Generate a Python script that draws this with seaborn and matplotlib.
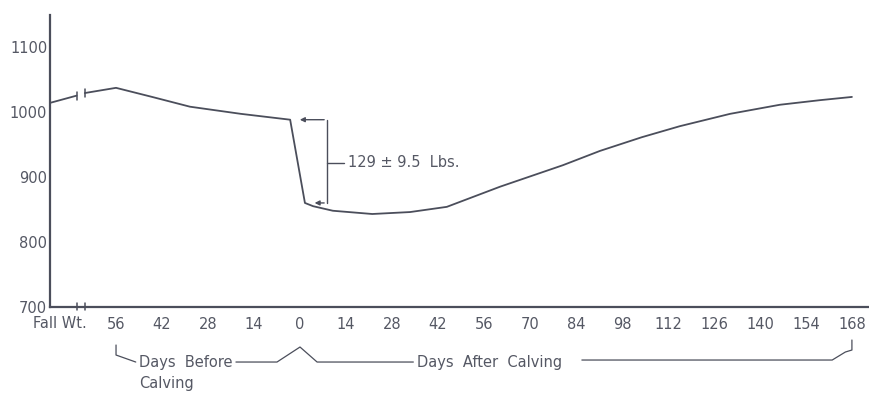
import matplotlib
matplotlib.use("Agg")
import matplotlib.pyplot as plt
import seaborn as sns
import pandas as pd

# values (days relative to calving, weight in lbs)
fall_days = [-76, -68]
fall_weight = [1014, 1025]

main_days = [-65.5, -56, -45, -33.5, -18, -3, 1.5, 4, 10, 22, 33.5, 44.7,
             60.9, 80, 91.3, 104, 115.6, 130.9, 146.1, 158.2, 168]
main_weight = [1029, 1037, 1023, 1008, 997, 988, 860, 855, 848, 843, 846, 854,
               885, 918, 940, 961, 978, 997, 1011, 1018, 1023]

tick_days = [-56, -42, -28, -14, 0, 14, 28, 42, 56, 70, 84, 98, 112, 126, 140, 154, 168]
tick_labels = ["56", "42", "28", "14", "0", "14", "28", "42", "56", "70", "84",
               "98", "112", "126", "140", "154", "168"]
y_ticks = [700, 800, 900, 1000, 1100]

fall = pd.DataFrame({"day": fall_days, "weight": fall_weight})
main = pd.DataFrame({"day": main_days, "weight": main_weight})

sns.set_style("white")
plt.rcParams["font.family"] = ["DejaVu Sans"]

ink = "#4b4e5b"
txt = "#555864"
fs = 10.5

fig = plt.figure(figsize=(8.69, 3.95), dpi=100)
ax = fig.add_axes([50 / 869, 88 / 395, 819 / 869, 292 / 395])

sns.lineplot(data=fall, x="day", y="weight", ax=ax, color=ink, lw=1.3)
sns.lineplot(data=main, x="day", y="weight", ax=ax, color=ink, lw=1.3)

ax.set_xlim(-76.1, 173.2)
ax.set_ylim(700, 1149)
ax.set_xlabel("")
ax.set_ylabel("")

for s in ["top", "right"]:
    ax.spines[s].set_visible(False)
for s in ["left", "bottom"]:
    ax.spines[s].set_color(ink)
    ax.spines[s].set_linewidth(1.6)

ax.set_xticks(tick_days)
ax.set_xticklabels(tick_labels)
ax.set_yticks(y_ticks)
ax.set_yticklabels([str(v) for v in y_ticks])
ax.tick_params(axis="x", direction="in", length=6, width=1.2, color=ink,
               pad=7.5, labelsize=fs, labelcolor=txt)
ax.tick_params(axis="y", direction="in", length=9, width=1.6, color=ink,
               pad=2, labelsize=fs, labelcolor=txt)
ax.yaxis.get_major_ticks()[0].tick1line.set_visible(False)

ax.text(-73, 700 - 14.5, "Fall Wt.", ha="center", va="top", fontsize=fs,
        color=txt, clip_on=False)

# break marks on curve and axis
for xb, yb in ((-68, 1025), (-65.5, 1029)):
    ax.plot([xb, xb], [yb - 6, yb + 6], color=ink, lw=1.1)
    ax.plot([xb, xb], [696, 706], color=ink, lw=1.1, clip_on=False)

# loss bracket at calving
ax.plot([8.2, 8.2], [988, 860], color=ink, lw=1.0)
ax.plot([8.2, 13.5], [922, 922], color=ink, lw=1.0)
ax.annotate("", xy=(-0.9, 988), xytext=(8.2, 988),
            arrowprops=dict(arrowstyle="-|>", color=ink, lw=1.0, mutation_scale=7))
ax.annotate("", xy=(3.6, 860), xytext=(8.2, 860),
            arrowprops=dict(arrowstyle="-|>", color=ink, lw=1.0, mutation_scale=7))
ax.text(14.5, 922, "129 \u00b1 9.5  Lbs.", ha="left", va="center",
        fontsize=fs, color=txt)

# day group labels below the axis
yrow = 700 - (362 - 307) / 0.65
ax.plot([-56, -56, -50], [700 - 38 / 0.65, 700 - 48 / 0.65, yrow],
        color=ink, lw=0.9, clip_on=False)
ax.text(-49, yrow, "Days  Before", ha="left", va="center", fontsize=fs,
        color=txt, clip_on=False)
ax.text(-49, 700 - (383 - 307) / 0.65, "Calving", ha="left", va="center",
        fontsize=fs, color=txt, clip_on=False)
ax.plot([-19.5, -7, 0, 5.2, 34.5],
        [yrow, yrow, 700 - 40 / 0.65, yrow, yrow],
        color=ink, lw=0.9, clip_on=False)
ax.text(35.5, yrow, "Days  After  Calving", ha="left", va="center",
        fontsize=fs, color=txt, clip_on=False)
ax.plot([85.8, 162, 166, 168, 168],
        [700 - 53 / 0.65, 700 - 53 / 0.65, 700 - 45 / 0.65,
         700 - 43 / 0.65, 700 - 33 / 0.65],
        color=ink, lw=0.9, clip_on=False)

fig.savefig("out.png", dpi=100)
